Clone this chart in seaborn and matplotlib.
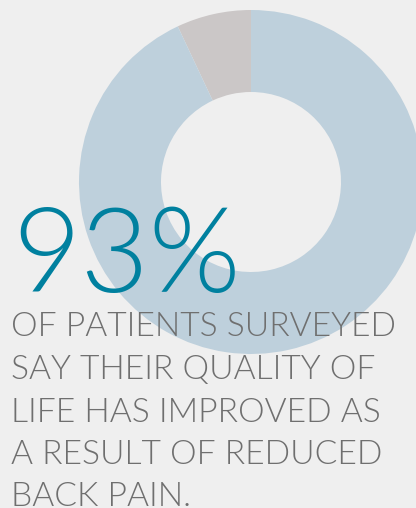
import matplotlib
matplotlib.use("Agg")
import matplotlib.pyplot as plt
import seaborn as sns

# Survey result
labels = ["Not improved", "Improved"]
shares = [7, 93]
headline = "93%"
caption_lines = [
    "OF PATIENTS SURVEYED",
    "SAY THEIR QUALITY OF",
    "LIFE HAS IMPROVED AS",
    "A RESULT OF REDUCED",
    "BACK PAIN.",
]

BG = "#efefef"
sns.set_theme(style="white", rc={"figure.facecolor": BG, "axes.facecolor": BG})
plt.rcParams["font.family"] = ["Lato", "DejaVu Sans"]

W, H = 416, 508
fig = plt.figure(figsize=(W / 100, H / 100), dpi=100)
ax = fig.add_axes([0, 0, 1, 1])

palette = ["#cbc7c7", "#bed0dc"]
ax.pie(
    shares,
    colors=palette,
    startangle=90,
    counterclock=True,
    center=(251, H - 182),
    radius=172,
    wedgeprops=dict(width=82, linewidth=0),
    frame=True,
)
ax.set_xlim(0, W)
ax.set_ylim(0, H)
ax.set_aspect("equal")
ax.axis("off")

ax.text(12, H - 292, headline, color="#00809f", fontsize=85,
        fontweight=300, ha="left", va="baseline")

baselines = [336, 379, 421.5, 464, 506]
for line, yb in zip(caption_lines, baselines):
    ax.text(11, H - yb, line, color="#6f6f6f", fontsize=24.2,
            fontweight=300, ha="left", va="baseline")

fig.savefig("out.png", dpi=100, facecolor=BG)
